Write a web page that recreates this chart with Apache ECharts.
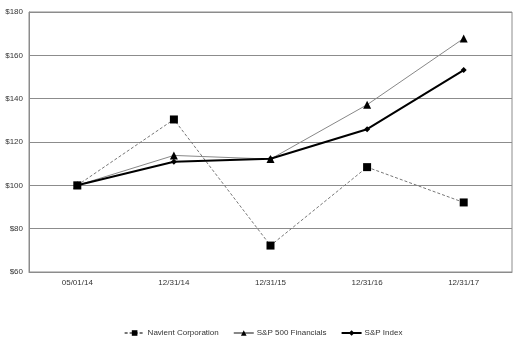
<!DOCTYPE html>
<html><head><meta charset="utf-8">
<script src="https://cdn.jsdelivr.net/npm/echarts@6/dist/echarts.min.js"></script>
<style>html,body{margin:0;padding:0;background:#fff}#c{width:526px;height:358px}</style>
</head><body><div id="c"></div>
<script>
var categories = ['05/01/14','12/31/14','12/31/15','12/31/16','12/31/17'];
var navient = [100, 130.4, 72.2, 108.4, 92.1];
var financials = [100, 113.8, 112.1, 137.2, 167.8];
var spIndex = [100, 110.9, 112.3, 125.9, 153.2];
var yTicks = {min: 60, max: 180, interval: 20};

var chart = echarts.init(document.getElementById('c'));
var font = 'Arial, "Liberation Sans", sans-serif';
chart.setOption({
  animation: false,
  backgroundColor: '#fff',
  grid: {left: 29, right: 14, top: 12, bottom: 86, show: true, borderColor: '#8c8c8c', borderWidth: 1},
  xAxis: {
    type: 'category', data: categories, boundaryGap: true,
    axisLine: {lineStyle: {color: '#8c8c8c'}},
    axisTick: {show: false},
    axisLabel: {color: '#333', fontSize: 8, fontFamily: font, margin: 7}
  },
  yAxis: {
    type: 'value', min: yTicks.min, max: yTicks.max, interval: yTicks.interval,
    axisLine: {show: true, lineStyle: {color: '#8c8c8c'}},
    axisTick: {show: false},
    splitLine: {lineStyle: {color: '#8c8c8c', width: 1}},
    axisLabel: {color: '#333', fontSize: 8, fontFamily: font, margin: 6, formatter: function(v){return '$' + v;}}
  },
  legend: {
    bottom: 16, left: 'center', itemGap: 14, itemWidth: 20, itemHeight: 7,
    textStyle: {color: '#333', fontSize: 8, fontFamily: font, padding: [0, 0, 0, -2]}
  },
  series: [
    {name: 'Navient Corporation', type: 'line', data: navient, symbol: 'rect', symbolSize: 8,
     itemStyle: {color: '#000'}, lineStyle: {color: '#777', width: 1, type: [3, 2]}},
    {name: 'S&P 500 Financials', type: 'line', data: financials, symbol: 'triangle', symbolSize: 8,
     itemStyle: {color: '#000'}, lineStyle: {color: '#888', width: 1}},
    {name: 'S&P Index', type: 'line', data: spIndex, symbol: 'diamond', symbolSize: 6,
     itemStyle: {color: '#000'}, lineStyle: {color: '#000', width: 2}}
  ]
});
</script></body></html>
